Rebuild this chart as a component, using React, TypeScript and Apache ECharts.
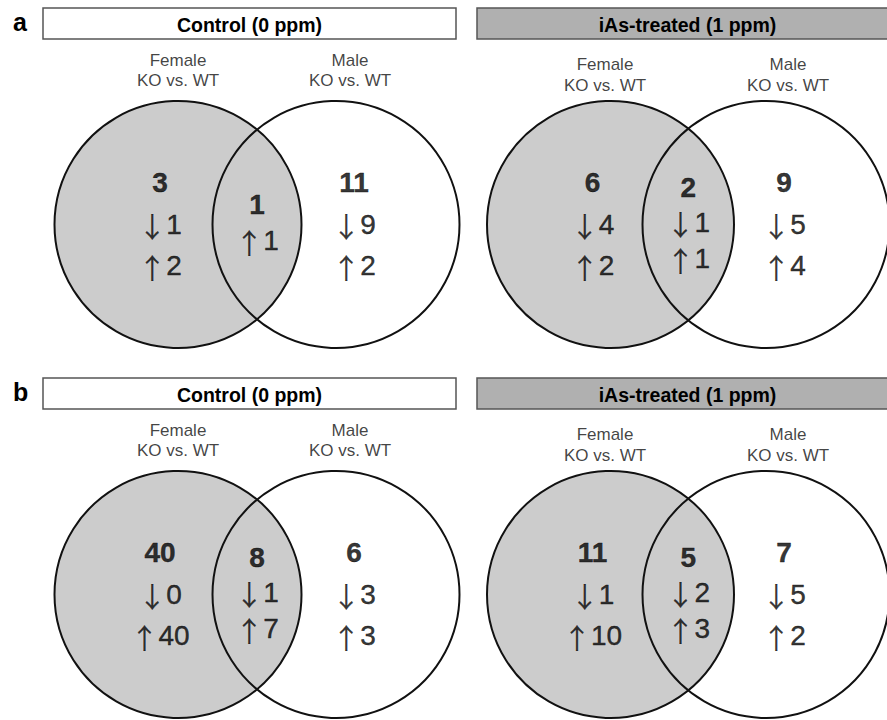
import React, { useEffect, useRef } from 'react';
import * as echarts from 'echarts';

const W = 887;
const H = 720;
const FONT = '"Liberation Sans", Arial, Helvetica, sans-serif';
const ARROW_FONT = '"Noto Sans CJK SC", "Noto Sans CJK JP", sans-serif';

// ---- data ----
const panelLetters = ['a', 'b'];
const treatments = ['Control (0 ppm)', 'iAs-treated (1 ppm)'];
const setNames = ['Female', 'Male'];
const comparison = 'KO vs. WT';
// order per venn: [female only, both, male only]; venns: a-control, a-iAs, b-control, b-iAs
const totals = [
  [3, 1, 11],
  [6, 2, 9],
  [40, 8, 6],
  [11, 5, 7],
];
const downs: (number | null)[][] = [
  [1, null, 9],
  [4, 1, 5],
  [0, 1, 3],
  [1, 2, 5],
];
const ups = [
  [2, 1, 2],
  [2, 1, 4],
  [40, 7, 3],
  [10, 3, 2],
];

// ---- layout ----
const R = 123.5;
const cols = [
  { cxL: 178, cxR: 336, boxX: 43, boxW: 413, boxFill: '#ffffff', femaleX: 178, maleX: 350, labDy: [52, 72] },
  { cxL: 610.5, cxR: 766, boxX: 477, boxW: 421, boxFill: '#b0b0b0', femaleX: 605, maleX: 788, labDy: [56, 77] },
];
const rowTops = [8, 378];
const BOX_H = 31;

export default function App() {
  const ref = useRef<HTMLDivElement>(null);
  useEffect(() => {
    document.body.style.margin = '0';
    const chart = echarts.init(ref.current!, null, { renderer: 'svg', width: W, height: H });

    const leftCircles: any[] = [];
    const rightCircles: any[] = [];
    const texts: any[] = [];
    const graphics: any[] = [];

    rowTops.forEach((top, ri) => {
      graphics.push({
        type: 'text', left: 13, top: top + 1,
        style: { text: panelLetters[ri], font: `bold 25px ${FONT}`, fill: '#000' },
      });
      cols.forEach((c, ci) => {
        const vi = ri * 2 + ci;
        const cy = top + 216.5;
        graphics.push({
          type: 'rect',
          shape: { x: c.boxX, y: top, width: c.boxW, height: BOX_H },
          style: { fill: c.boxFill, stroke: '#555', lineWidth: 1.5 },
        });
        graphics.push({
          type: 'text', x: c.boxX + c.boxW / 2, y: top + BOX_H / 2 + 1,
          style: { text: treatments[ci], font: `bold 19.5px ${FONT}`, fill: '#000', align: 'center', verticalAlign: 'middle' },
        });
        leftCircles.push({ value: [c.cxL, cy] });
        rightCircles.push({ value: [c.cxR, cy] });

        const lab = (x: number, y: number, t: string) => texts.push({ value: [x, y], label: { formatter: t } });
        // set labels
        lab(c.femaleX, top + c.labDy[0], `{s|${setNames[0]}}`);
        lab(c.femaleX, top + c.labDy[1], `{s|${comparison}}`);
        lab(c.maleX, top + c.labDy[0], `{s|${setNames[1]}}`);
        lab(c.maleX, top + c.labDy[1], `{s|${comparison}}`);

        const lensMid = (c.cxR - R + c.cxL + R) / 2;
        const xs = [c.cxL - 18, lensMid, c.cxR + 18];
        [0, 1, 2].forEach((k) => {
          const lines: string[] = [`{b|${totals[vi][k]}}`];
          if (downs[vi][k] !== null) lines.push(`{a|\u2193}{n|${downs[vi][k]}}`);
          lines.push(`{a|\u2191}{n|${ups[vi][k]}}`);
          if (k === 1) {
            const step = 35.5;
            const y0 = cy - 2 - (step * (lines.length - 1)) / 2;
            lines.forEach((l, i) => lab(xs[k], y0 + i * step, l));
          } else {
            lines.forEach((l, i) => lab(xs[k], cy - 42 + i * 41.5, l));
          }
        });
      });
    });

    const option: any = {
      animation: false,
      backgroundColor: '#ffffff',
      grid: { left: 0, right: 0, top: 0, bottom: 0 },
      xAxis: { type: 'value', min: 0, max: W, show: false },
      yAxis: { type: 'value', min: 0, max: H, inverse: true, show: false },
      graphic: graphics,
      series: [
        {
          type: 'scatter', symbol: 'circle', symbolSize: R * 2, silent: true, clip: false,
          itemStyle: { color: '#cccccc', borderColor: '#111', borderWidth: 2, opacity: 1 },
          emphasis: { disabled: true },
          data: leftCircles, z: 2,
        },
        {
          type: 'scatter', symbol: 'circle', symbolSize: R * 2, silent: true, clip: false,
          itemStyle: { color: 'rgba(0,0,0,0)', borderColor: '#111', borderWidth: 2, opacity: 1 },
          emphasis: { disabled: true },
          data: rightCircles, z: 3,
        },
        {
          type: 'scatter', symbolSize: 1, silent: true, clip: false,
          itemStyle: { color: 'rgba(0,0,0,0)' },
          emphasis: { disabled: true },
          label: {
            show: true, position: 'inside', color: '#000', fontFamily: FONT,
            align: 'center', verticalAlign: 'middle',
            textBorderWidth: 0, textBorderColor: 'transparent', textShadowBlur: 0,
            rich: {
              s: { fontFamily: FONT, fontSize: 17, color: '#111', lineHeight: 17 },
              b: { fontFamily: FONT, fontSize: 28, fontWeight: 'bold', color: '#000', lineHeight: 26, textBorderColor: '#000', textBorderWidth: 0.4 },
              n: { fontFamily: FONT, fontSize: 28, color: '#000', lineHeight: 26, textBorderColor: '#000', textBorderWidth: 0.4 },
              a: { fontFamily: ARROW_FONT, fontSize: 28, color: '#000', lineHeight: 26, padding: [3, 0, 0, 0], textBorderColor: '#000', textBorderWidth: 0.2 },
            },
          },
          data: texts, z: 4,
        },
      ],
    };
    chart.setOption(option);
    return () => chart.dispose();
  }, []);
  return <div ref={ref} style={{ position: 'absolute', left: 0, top: 0, width: W, height: H }} />;
}
